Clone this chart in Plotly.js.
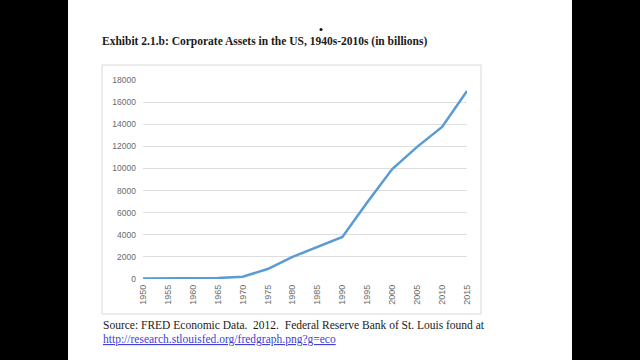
<!DOCTYPE html>
<html>
<head>
<meta charset="utf-8">
<script src="https://cdn.plot.ly/plotly-3.0.1.min.js"></script>
<style>html,body{margin:0;padding:0;background:#fff;}#chart{width:640px;height:360px;}</style>
</head>
<body>
<div id="chart"></div>
<script>
const years = ["1950","1955","1960","1965","1970","1975","1980","1985","1990","1995","2000","2005","2010","2015"];
const assets = [50, 60, 70, 90, 200, 900, 2000, 2900, 3800, 6950, 9950, 11950, 13750, 17000];
const yTicks = [0, 2000, 4000, 6000, 8000, 10000, 12000, 14000, 16000, 18000];

const W = 640, H = 360;
const M = {l: 143, r: 173, t: 80, b: 81};
const PW = W - M.l - M.r, PH = H - M.t - M.b;
const px = x => (x - M.l) / PW;
const py = y => (H - M.b - y) / PH;

const trace = {
  x: years, y: assets, type: 'scatter', mode: 'lines',
  line: {color: '#5b9bd5', width: 2.5}, hoverinfo: 'skip'
};

const layout = {
  width: W, height: H,
  margin: M,
  paper_bgcolor: '#ffffff', plot_bgcolor: '#ffffff',
  showlegend: false,
  title: {
    text: '<b>Exhibit 2.1.b: Corporate Assets in the US, 1940s-2010s (in billions)</b>',
    font: {family: 'Liberation Serif, Times New Roman, serif', size: 11.5, color: '#1a1a1a'},
    xref: 'container', x: 102 / W, xanchor: 'left',
    yref: 'container', y: 1 - 41 / H, yanchor: 'middle'
  },
  xaxis: {
    type: 'category', tickangle: -90, showgrid: false, zeroline: false,
    showline: false, ticks: '',
    tickfont: {family: 'Liberation Sans, Arial, sans-serif', size: 9, color: '#6b6b6b'},
    ticklabelstandoff: 3, fixedrange: true
  },
  yaxis: {
    range: [0, 18000], tickvals: yTicks, ticktext: yTicks.map(String),
    showgrid: true, gridcolor: '#dedede', gridwidth: 1,
    zeroline: false, showline: false, ticks: '',
    tickfont: {family: 'Liberation Sans, Arial, sans-serif', size: 8.5, color: '#6b6b6b'},
    ticklabelstandoff: 6, fixedrange: true
  },
  shapes: [
    {type: 'rect', xref: 'paper', yref: 'paper', x0: px(0), x1: px(68), y0: py(H), y1: py(0),
     fillcolor: '#000000', line: {width: 0}, layer: 'above'},
    {type: 'rect', xref: 'paper', yref: 'paper', x0: px(572), x1: px(W), y0: py(H), y1: py(0),
     fillcolor: '#000000', line: {width: 0}, layer: 'above'},
    {type: 'rect', xref: 'paper', yref: 'paper', x0: px(102), x1: px(481), y0: py(314), y1: py(65),
     fillcolor: 'rgba(0,0,0,0)', line: {color: '#d9d9d9', width: 1}, layer: 'below'},
    {type: 'circle', xref: 'paper', yref: 'paper', x0: px(319.5), x1: px(322.5), y0: py(31), y1: py(28),
     fillcolor: '#111111', line: {width: 0}}
  ],
  annotations: [
    {text: 'Source: FRED Economic Data.  2012.  Federal Reserve Bank of St. Louis found at',
     xref: 'paper', yref: 'paper', x: px(101), y: py(325), xanchor: 'left', yanchor: 'middle',
     showarrow: false, font: {family: 'Liberation Serif, Times New Roman, serif', size: 11.5, color: '#1a1a1a'}},
    {text: 'http://research.stlouisfed.org/fredgraph.png?g=eco',
     xref: 'paper', yref: 'paper', x: px(101), y: py(339), xanchor: 'left', yanchor: 'middle',
     showarrow: false, font: {family: 'Liberation Serif, Times New Roman, serif', size: 11.5, color: '#4040d8', lineposition: 'under'}}
  ]
};

Plotly.newPlot('chart', [trace], layout, {displayModeBar: false, staticPlot: true});
</script>
</body>
</html>
